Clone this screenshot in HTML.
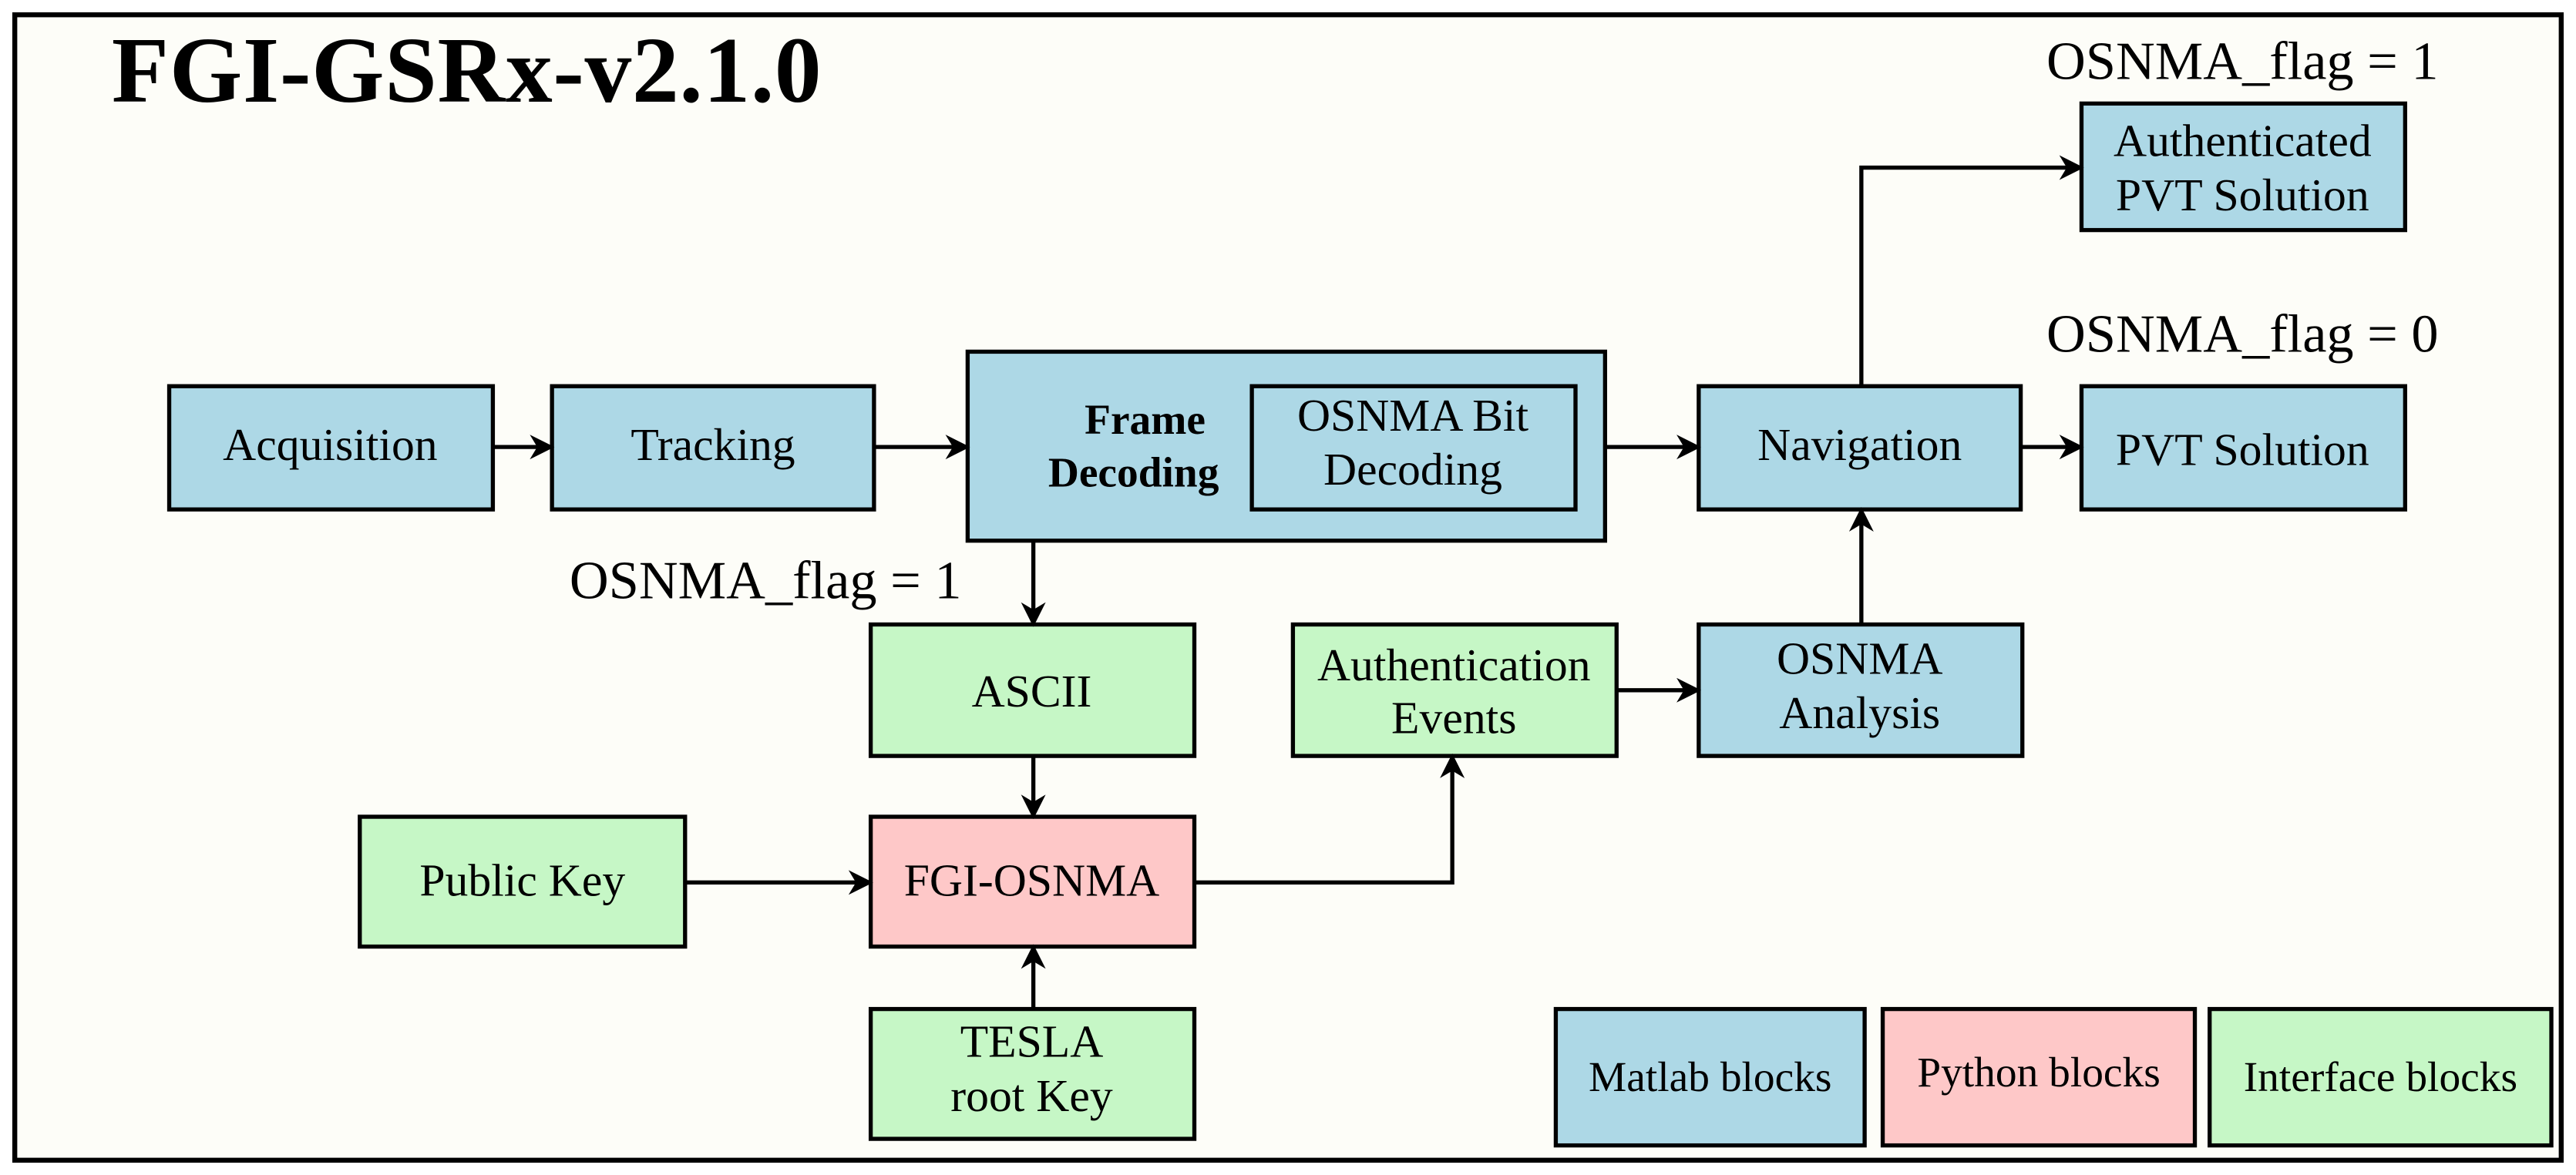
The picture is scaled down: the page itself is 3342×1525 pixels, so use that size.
<!DOCTYPE html>
<html><head><meta charset="utf-8"><style>
html,body{margin:0;padding:0;background:#fff}
svg{display:block}
text{font-family:"Liberation Serif",serif;fill:#000}
</style></head><body>
<svg width="3342" height="1525" viewBox="0 0 1568 715" preserveAspectRatio="none" xmlns="http://www.w3.org/2000/svg">
<defs>
<marker id="b" viewBox="0 0 10 10" refX="9" refY="5" markerWidth="15" markerHeight="15" markerUnits="userSpaceOnUse" orient="auto">
<path d="M0,0 L10,5 L0,10 L3,5 Z" fill="#000"/></marker>
</defs>
<rect x="9" y="9" width="1550" height="697" fill="#fdfdf8" stroke="#000" stroke-width="3"/>
<text x="68" y="62" font-size="57" font-weight="bold" textLength="432">FGI-GSRx-v2.1.0</text>
<g stroke="#000" stroke-width="2.5">
<rect x="103" y="235" width="197" height="75" fill="#add8e6"/>
<rect x="336" y="235" width="196" height="75" fill="#add8e6"/>
<rect x="589" y="214" width="388" height="115" fill="#add8e6"/>
<rect x="762" y="235" width="197" height="75" fill="#add8e6"/>
<rect x="1034" y="235" width="196" height="75" fill="#add8e6"/>
<rect x="1267" y="235" width="197" height="75" fill="#add8e6"/>
<rect x="1267" y="63" width="197" height="77" fill="#add8e6"/>
<rect x="530" y="380" width="197" height="80" fill="#c6f7c6"/>
<rect x="787" y="380" width="197" height="80" fill="#c6f7c6"/>
<rect x="1034" y="380" width="197" height="80" fill="#add8e6"/>
<rect x="219" y="497" width="198" height="79" fill="#c6f7c6"/>
<rect x="530" y="497" width="197" height="79" fill="#fec8c8"/>
<rect x="530" y="614" width="197" height="79" fill="#c6f7c6"/>
<rect x="947" y="614" width="188" height="83" fill="#add8e6"/>
<rect x="1146" y="614" width="190" height="83" fill="#fec8c8"/>
<rect x="1345" y="614" width="208" height="83" fill="#c6f7c6"/>
</g>
<g stroke="#000" stroke-width="2.5" fill="none">
<line x1="300" y1="272" x2="336" y2="272" marker-end="url(#b)"/>
<line x1="532" y1="272" x2="589" y2="272" marker-end="url(#b)"/>
<line x1="977" y1="272" x2="1034" y2="272" marker-end="url(#b)"/>
<line x1="1230" y1="272" x2="1267" y2="272" marker-end="url(#b)"/>
<polyline points="1133,235 1133,102 1267,102" marker-end="url(#b)"/>
<line x1="629" y1="329" x2="629" y2="380" marker-end="url(#b)"/>
<line x1="629" y1="460" x2="629" y2="497" marker-end="url(#b)"/>
<line x1="629" y1="614" x2="629" y2="576" marker-end="url(#b)"/>
<line x1="417" y1="537" x2="530" y2="537" marker-end="url(#b)"/>
<polyline points="727,537 884,537 884,460" marker-end="url(#b)"/>
<line x1="984" y1="420" x2="1034" y2="420" marker-end="url(#b)"/>
<line x1="1133" y1="380" x2="1133" y2="310" marker-end="url(#b)"/>
</g>
<g font-size="28" text-anchor="middle">
<text x="201" y="280">Acquisition</text>
<text x="434" y="280">Tracking</text>
<text x="697" y="264" font-weight="bold" font-size="26">Frame</text>
<text x="690" y="296" font-weight="bold" font-size="26">Decoding</text>
<text x="860" y="262">OSNMA Bit</text>
<text x="860" y="295">Decoding</text>
<text x="1132" y="280">Navigation</text>
<text x="1365" y="283">PVT Solution</text>
<text x="1365" y="95">Authenticated</text>
<text x="1365" y="128">PVT Solution</text>
<text x="1365" y="48" font-size="33">OSNMA_flag = 1</text>
<text x="1365" y="214" font-size="33">OSNMA_flag = 0</text>
<text x="466" y="364" font-size="33">OSNMA_flag = 1</text>
<text x="628" y="430">ASCII</text>
<text x="885" y="414">Authentication</text>
<text x="885" y="446">Events</text>
<text x="1132" y="410">OSNMA</text>
<text x="1132" y="443">Analysis</text>
<text x="318" y="545">Public Key</text>
<text x="628" y="545">FGI-OSNMA</text>
<text x="628" y="643">TESLA</text>
<text x="628" y="676">root Key</text>
<text x="1041" y="664" font-size="26">Matlab blocks</text>
<text x="1241" y="661" font-size="26">Python blocks</text>
<text x="1449" y="664" font-size="26">Interface blocks</text>
</g>
</svg>
</body></html>
